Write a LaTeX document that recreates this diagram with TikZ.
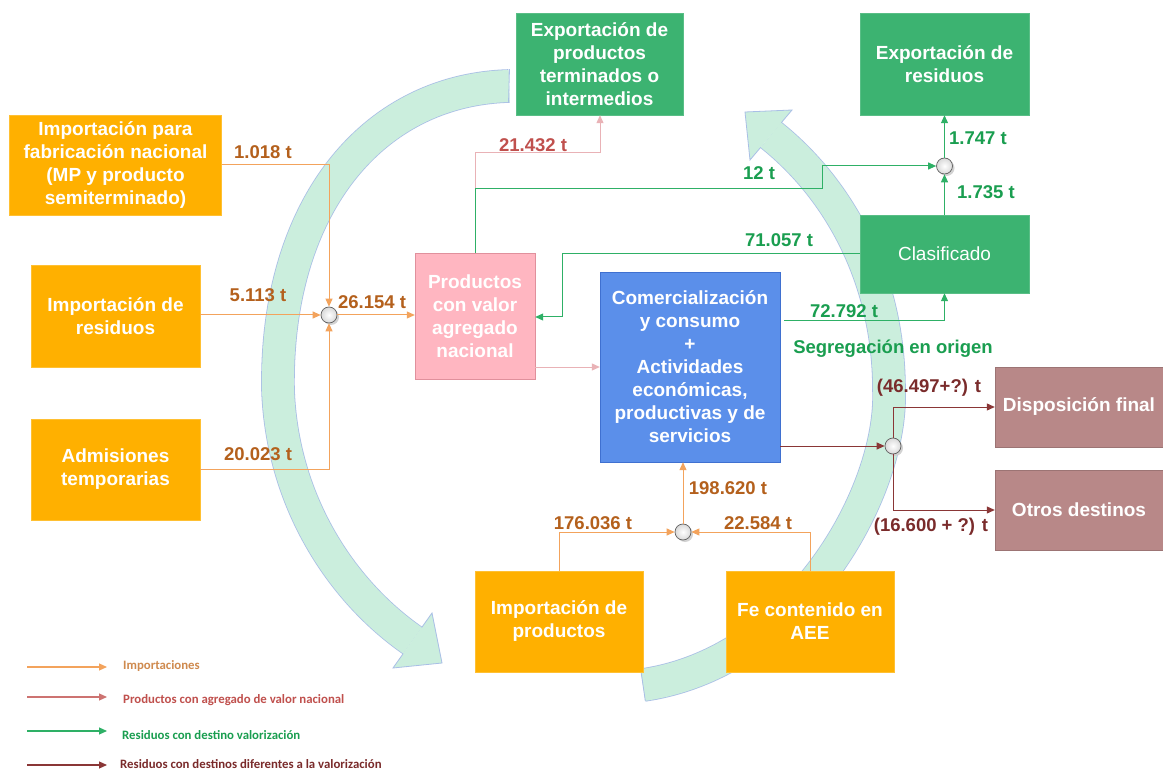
\documentclass[tikz,border=0pt]{standalone}
\usepackage{fontspec}
\setmainfont{Liberation Sans}
\newfontfamily\legfont{Carlito}
\usetikzlibrary{arrows.meta,calc}
\definecolor{orbox}{HTML}{FFB000}
\definecolor{pkbox}{HTML}{FFB6C1}
\definecolor{pkborder}{HTML}{E0909C}
\definecolor{blbox}{HTML}{5B8FEA}
\definecolor{blborder}{HTML}{3F70D0}
\definecolor{grbox}{HTML}{3CB371}
\definecolor{brbox}{HTML}{B88888}
\definecolor{bandfill}{HTML}{CBEEDD}
\definecolor{bandline}{HTML}{A9BFE6}
\definecolor{impline}{HTML}{F3A35C}
\definecolor{implabel}{HTML}{B4601C}
\definecolor{grline}{HTML}{2EB066}
\definecolor{grlabel}{HTML}{1A9E50}
\definecolor{pkline}{HTML}{E9B2B6}
\definecolor{pklabel}{HTML}{C0504D}
\definecolor{drline}{HTML}{8A3636}
\definecolor{drlabel}{HTML}{7A2B2B}
\newcommand\bxfont{\fontsize{19}{23}\selectfont\bfseries}
\newcommand\lblfont{\fontsize{18.5}{22}\selectfont\bfseries}
\newcommand\lgfont{\legfont\fontsize{12.8}{15}\selectfont\bfseries}
\tikzset{
  bx/.style={rectangle, inner sep=0pt, align=center, text=white, font=\bxfont},
  obox/.style={bx, fill=orbox, draw=orbox!80!white},
  gbox/.style={bx, fill=grbox, draw=grbox!85!white},
  rbox/.style={bx, fill=brbox, draw=brbox!85!black},
  jn/.style={circle, draw=gray!75!black, line width=0.7pt, inner sep=0pt, minimum size=16pt, inner color=white, outer color=gray!30},
  jshadow/.style={circle, fill=gray!35, inner sep=0pt, minimum size=16pt},
  tip/.style={-{Triangle[length=8pt,width=7pt]}},
  impc/.style={tip, draw=impline, line width=1pt},
  grc/.style={tip, draw=grline, line width=1pt},
  pkc/.style={tip, draw=pkline, line width=1pt},
  drc/.style={tip, draw=drline, line width=1pt},
  lbl/.style={font=\lblfont, inner sep=0pt},
  lgt/.style={font=\lgfont, inner sep=0pt, anchor=west},
  band/.style={draw=bandline, double=bandfill, double distance=32pt, line width=0.8pt},
}
\begin{document}
\begin{tikzpicture}[x=1pt,y=-1pt]
\useasboundingbox (0,0) rectangle (1163,770);
\fill[white] (0,0) rectangle (1163,770);
% big circular arrows
\draw[band] (509,86) .. controls (370,90) and (275,210) .. (278,390) .. controls (282,500) and (340,590) .. (412.5,640.5);
\fill[bandfill] (432,613) -- (442,663) -- (393,668) -- cycle;
\draw[bandline, line width=0.8pt] (421.8,627.4) -- (432,613) -- (442,663) -- (393,668) -- (403.2,653.6);
\draw[bandline, line width=0.8pt] (509.5,69.2) -- (508.5,102.8);
\draw[band] (643,685) .. controls (800,662) and (893,490) .. (889,390) .. controls (889,280) and (840,190) .. (771,135);
\fill[bandfill] (792,110) -- (745,112) -- (750,160) -- cycle;
\draw[bandline, line width=0.8pt] (781.3,122.7) -- (792,110) -- (745,112) -- (750,160) -- (760.7,147.3);
\draw[bandline, line width=0.8pt] (640.7,669.2) -- (645.3,700.8);
% boxes
\node[obox, minimum width=212, minimum height=100] (impfab) at (115.5,165) {Importación para\\fabricación nacional\\(MP y producto\\semiterminado)};
\node[obox, minimum width=169, minimum height=102] (impres) at (115.5,316) {Importación de\\residuos};
\node[obox, minimum width=169, minimum height=101] (adm) at (115.5,469.5) {Admisiones\\temporarias};
\node[bx, fill=pkbox, draw=pkborder, minimum width=120, minimum height=126] (pva) at (475,316) {Productos\\con valor\\agregado\\nacional};
\node[bx, fill=blbox, draw=blborder, minimum width=180, minimum height=190] (com) at (690,367) {Comercialización\\y consumo\\+\\Actividades\\económicas,\\productivas y de\\servicios};
\node[gbox, minimum width=167, minimum height=102] (expprod) at (599.5,64) {Exportación de\\productos\\terminados o\\intermedios};
\node[gbox, minimum width=169, minimum height=102] (expres) at (944.5,64) {Exportación de\\residuos};
\node[gbox, minimum width=169, minimum height=78, font=\fontsize{19}{23}\selectfont] (clas) at (944.5,254) {Clasificado};
\node[rbox, minimum width=168, minimum height=80] (disp) at (1079,407) {Disposición final};
\node[rbox, minimum width=168, minimum height=80] (otros) at (1079,510) {Otros destinos};
\node[obox, minimum width=168, minimum height=101] (impprod) at (559,621.5) {Importación de\\productos};
\node[obox, minimum width=168, minimum height=101] (fe) at (810,621.5) {Fe contenido en\\AEE};
% junction shadows
\node[jshadow] (s1) at (331,317) {};
\node[jshadow] (s2) at (946.5,168) {};
\node[jshadow] (s3) at (895,448) {};
\node[jshadow] (s4) at (685,534) {};
% coordinates
\coordinate (pk1) at (600,153);
\coordinate (g1) at (822,189);
\coordinate (g2) at (562,317);
\coordinate (g3) at (784,321);
\coordinate (pk2) at (535,367);
% junctions
\node[jn] (j1) at (329,315) {};
\node[jn] (j2) at (944.5,166) {};
\node[jn] (j3) at (893,446) {};
\node[jn] (j4) at (683,532) {};
% connectors
\draw[impc] (impfab.east) -| (j1.north);
\draw[impc] (impres.east |- j1) -- (j1.west);
\draw[impc] (adm.east) -| (j1.south);
\draw[impc] (j1.east) -- (pva.west |- j1);
\draw[pkc] (pva.north) |- (pk1) -- (expprod.south -| pk1);
\draw[grc] (pva.north) |- (g1) |- (j2.west);
\draw[grc] (clas.west) -| (g2) -- (pva.east |- g2);
\draw[grc] (g3) -| (clas.south);
\draw[grc] (clas.north) -- (j2.south);
\draw[grc] (j2.north) -- (expres.south);
\draw[pkc] (pk2) -- (com.west |- pk2);
\draw[drc] (com.east |- j3) -- (j3.west);
\draw[drc] (j3.north) |- (disp.west);
\draw[drc] (j3.south) |- (otros.west);
\draw[impc] (impprod.north) |- (j4.west);
\draw[impc] (fe.north) |- (j4.east);
\draw[impc] (j4.north) -- (j4 |- com.south);
% labels
\node[lbl, text=implabel] (l1) at (263,152) {1.018 t};
\node[lbl, text=implabel] (l2) at (258,295) {5.113 t};
\node[lbl, text=implabel] (l3) at (258,454) {20.023 t};
\node[lbl, text=implabel] (l4) at (372,302) {26.154 t};
\node[lbl, text=pklabel] (l5) at (533,145) {21.432 t};
\node[lbl, text=grlabel] (l6) at (759,173) {12 t};
\node[lbl, text=grlabel] (l7) at (779,240) {71.057 t};
\node[lbl, text=grlabel] (l8) at (844,311) {72.792 t};
\node[lbl, text=grlabel] (l9) at (893,349) {Segregación en origen};
\node[lbl, text=grlabel] (l10) at (986,192) {1.735 t};
\node[lbl, text=grlabel] (l11) at (978,138) {1.747 t};
\node[lbl, text=drlabel] (l12) at (929,388) {(46.497+?) t};
\node[lbl, text=drlabel] (l13) at (931,527) {(16.600 + ?) t};
\node[lbl, text=implabel] (l14) at (728,488) {198.620 t};
\node[lbl, text=implabel] (l15) at (593,523) {176.036 t};
\node[lbl, text=implabel] (l16) at (758,523) {22.584 t};
% legend
\coordinate (la1) at (27,667); \coordinate (lb1) at (107,667);
\coordinate (la2) at (27,697); \coordinate (lb2) at (107,697);
\coordinate (la3) at (27,731); \coordinate (lb3) at (107,731);
\coordinate (la4) at (27,765); \coordinate (lb4) at (107,765);
\draw[impc, line width=1.2pt] (la1) -- (lb1);
\draw[tip, draw=pklabel!80!white, line width=1.2pt] (la2) -- (lb2);
\draw[grc, line width=1.2pt] (la3) -- (lb3);
\draw[drc, line width=1.2pt] (la4) -- (lb4);
\node[lgt, text=impline!85!black] (t1) at (123,666) {Importaciones};
\node[lgt, text=pklabel] (t2) at (123,700) {Productos con agregado de valor nacional};
\node[lgt, text=grlabel] (t3) at (122,735) {Residuos con destino valorización};
\node[lgt, text=drlabel] (t4) at (120,764) {Residuos con destinos diferentes a la valorización};
\end{tikzpicture}
\end{document}
